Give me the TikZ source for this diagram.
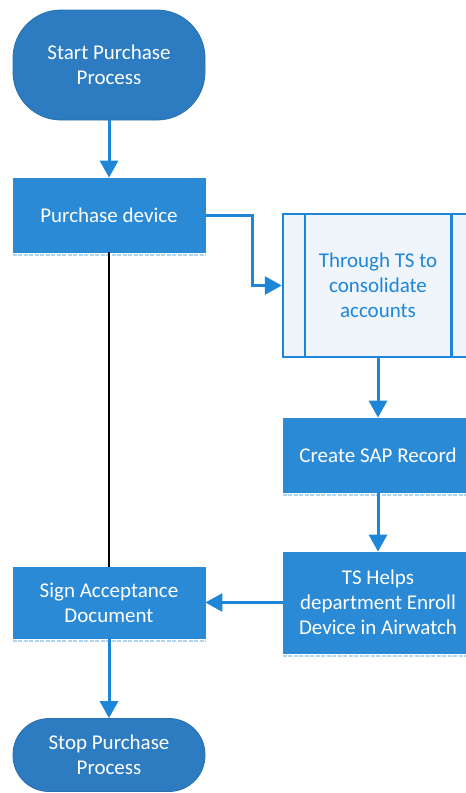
\documentclass[tikz,border=0pt]{standalone}
\usepackage{fontspec}
\setmainfont{Carlito}
\usepackage{tikz}
\usetikzlibrary{arrows.meta}
\usetikzlibrary{positioning}
\definecolor{TermBlue}{HTML}{2D7CC2}
\definecolor{BoxBlue}{HTML}{2B8AD6}
\definecolor{LineBlue}{HTML}{1E86D8}
\definecolor{PaleBlue}{HTML}{F0F5FB}
\newcommand{\FlowFont}{\fontsize{21}{25}\selectfont}
\tikzset{
  Terminal/.style={
    rectangle, rounded corners=48pt,
    minimum width=192pt, minimum height=110pt,
    fill=TermBlue, draw=TermBlue!90!black, thick,
    text=white, align=center, font=\FlowFont,
  },
  StepBox/.style={
    rectangle, minimum width=192pt, minimum height=74pt,
    fill=BoxBlue, draw=BoxBlue, thick,
    text=white, align=center, font=\FlowFont,
  },
  SubProc/.style={
    rectangle, minimum width=190pt, minimum height=143pt,
    fill=PaleBlue, draw=LineBlue, line width=2.5pt,
    text=LineBlue, align=center, font=\FlowFont,
  },
  Flow/.style={-{Triangle[length=17pt,width=18pt]}, line width=3pt, draw=LineBlue},
  ShadowDash/.style={line width=2pt, draw=LineBlue!35, dash pattern=on 4pt off 1.5pt},
}

\begin{document}
\begin{tikzpicture}[x=1pt, y=-1pt]
\useasboundingbox (0,0) rectangle (466,793);
\clip (0,0) rectangle (466,793);
\node[Terminal] (Start) at (109,65) {Start Purchase\\Process};
\node[StepBox] (Purchase) at (109,215) {Purchase device};
\node[SubProc] (Through) at (378,285.5) {Through TS to\\consolidate\\accounts};
\node[StepBox, minimum width=190pt] (SAP) at (378,455) {Create SAP Record};
\node[StepBox, minimum width=190pt, minimum height=101pt] (Helps) at (378,602.5) {TS Helps\\department Enroll\\Device in Airwatch};
\node[StepBox, minimum height=71pt] (Sign) at (109,602.5) {Sign Acceptance\\Document};
\node[Terminal, rounded corners=36pt, minimum height=73pt] (Stop) at (109,755) {Stop Purchase\\Process};
% side bars of the subprocess box
\draw[line width=2.5pt, draw=LineBlue] ([xshift=23pt]Through.north west) -- ([xshift=23pt]Through.south west);
\draw[line width=2.5pt, draw=LineBlue] ([xshift=-23pt]Through.north east) -- ([xshift=-23pt]Through.south east);
% shadows under the steps
\foreach \n in {Purchase,SAP,Helps,Sign}
  \draw[ShadowDash] ([yshift=-2.5pt]\n.south west) -- ([yshift=-2.5pt]\n.south east);
\draw[Flow] (Start) to (Purchase);
\draw[Flow] (Purchase.east) -- ++(47pt,0) |- (Through.west);
\draw[Flow] (Through) to (SAP);
\draw[Flow] (SAP) to (Helps);
\draw[Flow] (Helps) to (Sign);
\draw[Flow] (Sign) to (Stop);
\draw[line width=2pt] (Purchase.south) -- (Sign.north);
\end{tikzpicture}
\end{document}
